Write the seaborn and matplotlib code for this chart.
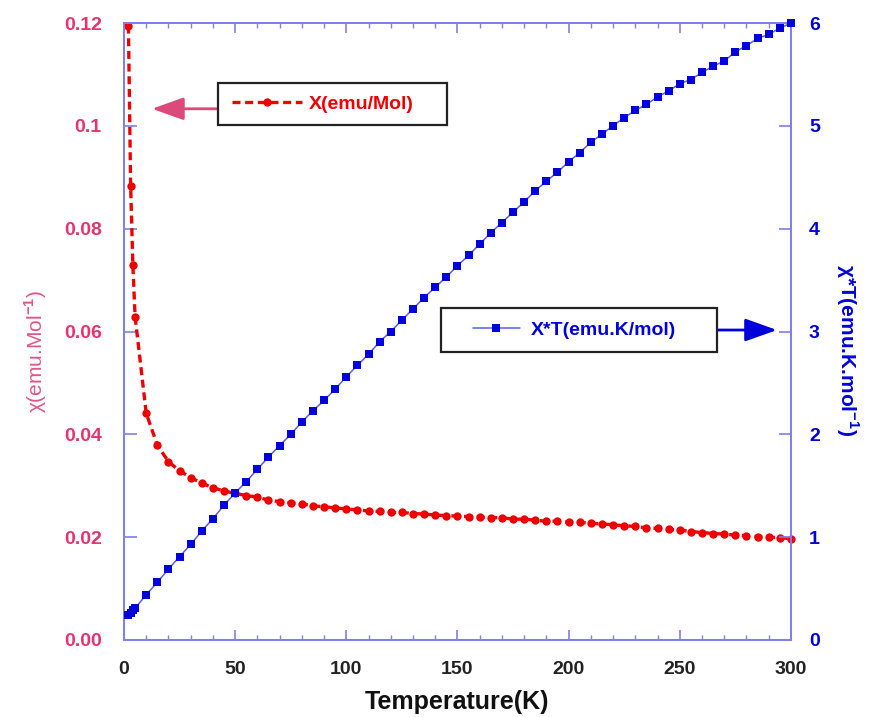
import matplotlib
matplotlib.use("Agg")
import matplotlib.pyplot as plt
from matplotlib.ticker import MultipleLocator
from matplotlib.patches import Rectangle
import pandas as pd
import seaborn as sns

# temperature points (K)
temps = [2, 3, 4, 5, 10, 15, 20, 25, 30, 35, 40, 45, 50, 55, 60, 65, 70, 75, 80, 85,
         90, 95, 100, 105, 110, 115, 120, 125, 130, 135, 140, 145, 150, 155, 160, 165,
         170, 175, 180, 185, 190, 195, 200, 205, 210, 215, 220, 225, 230, 235, 240, 245,
         250, 255, 260, 265, 270, 275, 280, 285, 290, 295, 300]

# chi (emu/mol)
chi = [0.1195, 0.0883, 0.0729, 0.0629, 0.0441, 0.0379, 0.0347, 0.0329, 0.0316, 0.0305,
       0.0296, 0.0290, 0.0285, 0.0281, 0.0278, 0.0272, 0.0269, 0.0267, 0.0265, 0.0261,
       0.0259, 0.0257, 0.0255, 0.0253, 0.0251, 0.0250, 0.0248, 0.0248, 0.0246, 0.0245,
       0.0243, 0.0242, 0.0241, 0.0240, 0.0239, 0.0238, 0.0238, 0.0235, 0.0235, 0.0233,
       0.0231, 0.0231, 0.0229, 0.0229, 0.0227, 0.0226, 0.0224, 0.0222, 0.0221, 0.0218,
       0.0217, 0.0215, 0.0214, 0.0211, 0.0209, 0.0207, 0.0206, 0.0204, 0.0203, 0.0201,
       0.0200, 0.0199, 0.0197]

# chi*T (emu.K/mol)
chi_t = [0.24, 0.26, 0.29, 0.31, 0.44, 0.56, 0.69, 0.81, 0.93, 1.06, 1.18, 1.31, 1.43,
         1.54, 1.66, 1.78, 1.89, 2.00, 2.12, 2.23, 2.33, 2.44, 2.56, 2.67, 2.78, 2.90,
         3.00, 3.11, 3.22, 3.33, 3.43, 3.53, 3.64, 3.74, 3.85, 3.96, 4.06, 4.16, 4.26,
         4.37, 4.46, 4.55, 4.65, 4.74, 4.84, 4.92, 5.00, 5.08, 5.15, 5.21, 5.28, 5.34,
         5.41, 5.45, 5.52, 5.58, 5.63, 5.72, 5.78, 5.85, 5.89, 5.95, 6.00]

left_ticks = [0, 0.02, 0.04, 0.06, 0.08, 0.10, 0.12]
left_labels = ['0.00', '0.02', '0.04', '0.06', '0.08', '0.1', '0.12']
right_ticks = [0, 1, 2, 3, 4, 5, 6]

red = '#ee0000'
blue = '#0000dd'
pink = '#e8336d'
spine_col = '#7f7fee'

sns.set_style("white")
plt.rcParams['font.family'] = ['Liberation Sans', 'DejaVu Sans']
plt.rcParams['font.weight'] = 'bold'
plt.rcParams['mathtext.fontset'] = 'custom'
plt.rcParams['mathtext.rm'] = 'Liberation Sans'
plt.rcParams['mathtext.bf'] = 'Liberation Sans:bold'

df = pd.DataFrame({'T': temps, 'chi': chi, 'chiT': chi_t})

fig = plt.figure(figsize=(8.73, 7.17), dpi=100)
ax = fig.add_axes([0.142, 0.1074, 0.764, 0.8605])
ax2 = ax.twinx()

sns.lineplot(data=df, x='T', y='chi', ax=ax, color=red, marker='o', markersize=6,
             markeredgewidth=0, linestyle=(0, (2.4, 1.4)), linewidth=2.4,
             clip_on=False, legend=False, zorder=3)
sns.lineplot(data=df, x='T', y='chiT', ax=ax2, color='#5b5bee', marker='s', markersize=5.6,
             markerfacecolor=blue, markeredgecolor=blue, markeredgewidth=0,
             linewidth=1.1, clip_on=False, legend=False, zorder=3)

ax.set_xlim(0, 300)
ax.set_ylim(0, 0.12)
ax2.set_ylim(0, 6)

ax.xaxis.set_major_locator(MultipleLocator(50))
ax.xaxis.set_minor_locator(MultipleLocator(10))
ax.tick_params(axis='x', which='major', direction='in', top=True, bottom=True,
               length=7, width=1.2, color=spine_col, labelcolor='#222222',
               labelsize=14, pad=15)
ax.tick_params(axis='x', which='minor', direction='in', top=True, bottom=True,
               length=3.5, width=1.0, color=spine_col)

ax.set_yticks(left_ticks)
ax.set_yticklabels(left_labels)
ax.tick_params(axis='y', direction='in', left=True, right=False, length=9, width=1.2,
               color=spine_col, labelcolor=pink, labelsize=14, pad=16)

ax2.set_yticks(right_ticks)
ax2.tick_params(axis='y', direction='in', right=True, length=9, width=1.2,
                color=spine_col, labelcolor=blue, labelsize=14, pad=13)

for a in (ax, ax2):
    for sp in a.spines.values():
        sp.set_color(spine_col)
        sp.set_linewidth(1.4)
ax.grid(False)
ax2.grid(False)

ax.set_xlabel('Temperature(K)', fontsize=18, fontweight='bold', color='#111111', labelpad=9)
ax.set_ylabel(r'χ(emu.Mol$^{-1}$)', fontsize=15, fontweight='normal', color='#e05585',
              va='center', ha='center')
ax.yaxis.set_label_coords(-0.133, 0.467)
ax2.set_ylabel(r'χ*T(emu.K.mol$^{-1}$)', fontsize=15, fontweight='bold', color=blue,
               rotation=270, va='center', ha='center')
ax2.yaxis.set_label_coords(1.085, 0.470)

# legend boxes
ax.add_patch(Rectangle((0.1409, 0.8347), 0.3433, 0.0681, transform=ax.transAxes,
                       fill=True, facecolor='white', edgecolor='#222222',
                       linewidth=1.6, zorder=5, clip_on=False))
ax2.add_patch(Rectangle((0.4753, 0.4668), 0.4138, 0.0713, transform=ax.transAxes,
                        fill=True, facecolor='white', edgecolor='#222222',
                        linewidth=1.6, zorder=5, clip_on=False))

red_line = ax.get_lines()[0]
blue_line = ax2.get_lines()[0]
leg1 = ax.legend([red_line], ['X(emu/Mol)'], loc='center left',
                 bbox_to_anchor=(0.162, 0.8687), bbox_transform=ax.transAxes,
                 frameon=False, borderpad=0, borderaxespad=0, handlelength=3.6,
                 handletextpad=0.35, labelcolor=red, prop={'size': 14, 'weight': 'bold'})
leg1.set_zorder(6)
leg2 = ax2.legend([blue_line], ['X*T(emu.K/mol)'], loc='center left',
                  bbox_to_anchor=(0.5232, 0.5024), bbox_transform=ax.transAxes,
                  frameon=False, borderpad=0, borderaxespad=0, handlelength=2.4,
                  handletextpad=0.6, labelcolor=blue, prop={'size': 14, 'weight': 'bold'})
leg2.set_zorder(6)

# arrows pointing to the axes
ax.annotate('', xy=(0.042, 0.861), xytext=(0.141, 0.861), xycoords='axes fraction',
            arrowprops=dict(arrowstyle='-|>,head_length=1.4,head_width=0.5',
                            color='#dc4a7c', lw=2, mutation_scale=14,
                            shrinkA=0, shrinkB=0), annotation_clip=False)
ax2.annotate('', xy=(0.979, 0.5024), xytext=(0.889, 0.5024), xycoords='axes fraction',
             arrowprops=dict(arrowstyle='-|>,head_length=1.4,head_width=0.5',
                             color=blue, lw=2, mutation_scale=14,
                             shrinkA=0, shrinkB=0), annotation_clip=False)

fig.savefig('out.png', dpi=100)
